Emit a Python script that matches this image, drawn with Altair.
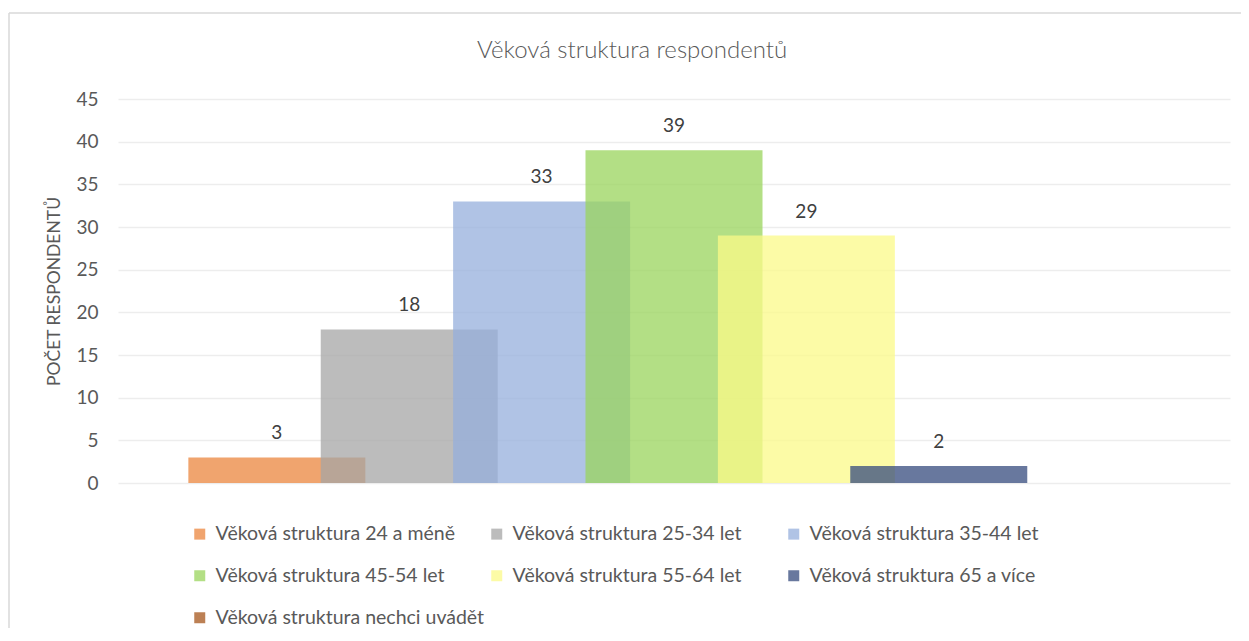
import altair as alt
import pandas as pd

series = [
    "Věková struktura 24 a méně",
    "Věková struktura 25-34 let",
    "Věková struktura 35-44 let",
    "Věková struktura 45-54 let",
    "Věková struktura 55-64 let",
    "Věková struktura 65 a více",
    "Věková struktura nechci uvádět",
]
values = [3, 18, 33, 39, 29, 2, 0]
colors = ["#EB863E", "#A5A5A5", "#96AFDC", "#9AD45C", "#FBFA88", "#354B7E", "#A6551B"]
y_ticks = [0, 5, 10, 15, 20, 25, 30, 35, 40, 45]

df = pd.DataFrame({"series": series, "value": values})

FONT = "Lato"
TXT = "#595959"

x_enc = alt.X(
    "series:N",
    sort=series,
    axis=None,
    scale=alt.Scale(paddingInner=0, paddingOuter=0.70),
)
y_enc = alt.Y(
    "value:Q",
    scale=alt.Scale(domain=[0, 45], nice=False),
    axis=alt.Axis(
        values=y_ticks,
        title="POČET RESPONDENTŮ",
        titleFont=FONT,
        titleFontSize=17.5,
        titleFontWeight="normal",
        titleColor=TXT,
        titlePadding=12,
        labelFont=FONT,
        labelFontSize=19,
        labelColor=TXT,
        labelPadding=20,
        domain=False,
        ticks=False,
        grid=True,
        gridColor="#EDEDED",
        gridWidth=1.3,
    ),
)

bars = alt.Chart(df).mark_bar(width=177, opacity=0.75).encode(
    x=x_enc,
    y=y_enc,
    color=alt.Color(
        "series:N",
        sort=series,
        scale=alt.Scale(domain=series, range=colors),
        legend=alt.Legend(
            title=None,
            orient="none",
            legendX=72,
            legendY=425,
            direction="horizontal",
            columns=3,
            gridAlign="all",
            columnPadding=2,
            rowPadding=21,
            symbolType="square",
            symbolSize=121,
            symbolStrokeWidth=0,
            symbolOffset=0,
            labelOffset=6,
            labelFont=FONT,
            labelFontSize=19.5,
            labelColor=TXT,
            labelLimit=400,
        ),
    ),
)

labels = alt.Chart(df).transform_filter("datum.value > 0").mark_text(
    font=FONT, fontSize=19, color="#404040", baseline="middle", dy=-24
).encode(x=x_enc, y=alt.Y("value:Q"), text=alt.Text("value:Q"))

frame_data = pd.DataFrame({"k": [0]})
frame_top = alt.Chart(frame_data).mark_rule(color="#D9D9D9", strokeWidth=1.5).encode(
    x=alt.value(-109), x2=alt.value(1300), y=alt.value(-86)
)
frame_left = alt.Chart(frame_data).mark_rule(color="#D9D9D9", strokeWidth=1.5).encode(
    x=alt.value(-109), y=alt.value(-86), y2=alt.value(700)
)

chart = alt.layer(frame_top, frame_left, bars, labels).properties(
    width=1112,
    height=384,
    autosize="none",
    padding={"left": 110, "top": 91, "right": 11, "bottom": 145},
    title=alt.TitleParams(
        "Věková struktura respondentů",
        font=FONT,
        fontSize=24,
        fontWeight=300,
        color=TXT,
        anchor="middle",
        frame="group",
        dx=-42,
        offset=-51,
    ),
).configure_view(stroke=None)

chart.save("out.html", embed_options={"renderer": "svg", "actions": False})
